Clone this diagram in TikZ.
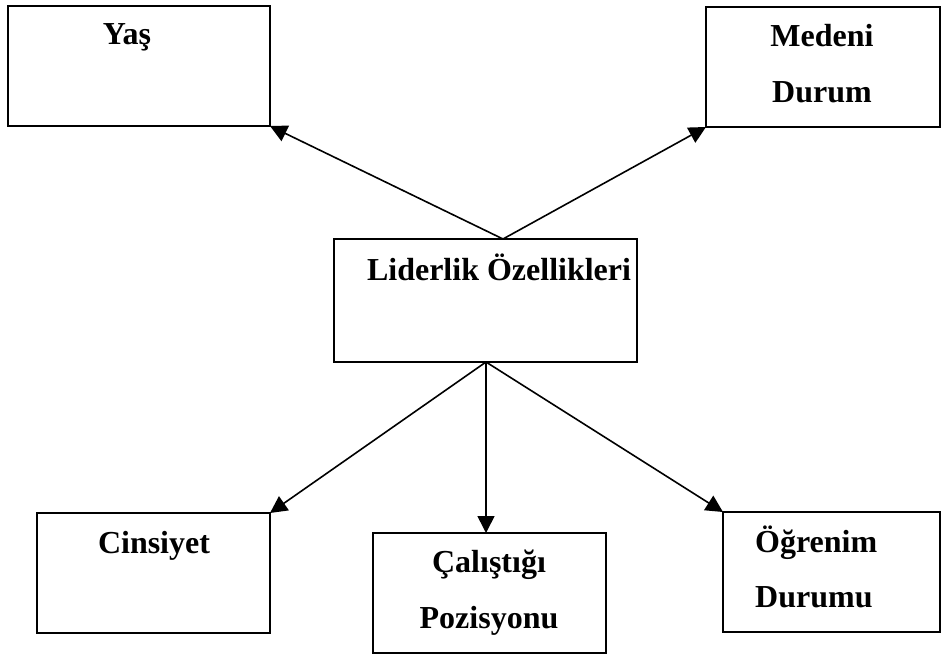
\documentclass[tikz,border=0pt]{standalone}
\usepackage{fontspec}
\setmainfont{Liberation Serif}
\usetikzlibrary{arrows.meta}
\begin{document}
\begin{tikzpicture}[x=1pt,y=-1pt,
  box/.style={draw, line width=1.1pt, inner sep=0pt, outer sep=0pt, anchor=north west},
  thickbox/.style={box, line width=2.4pt},
  lbl/.style={font=\fontsize{32}{32}\selectfont\bfseries, inner sep=0pt, anchor=base},
  conn/.style={line width=1.6pt, -{Triangle[length=17pt,width=17pt]}}]
\useasboundingbox (0,0) rectangle (944,655);
% boxes
\node[box, minimum width=262pt, minimum height=120pt] (yas) at (8,6) {};
\node[thickbox, minimum width=234pt, minimum height=120pt] (med) at (706,7) {};
\node[box, minimum width=303pt, minimum height=123pt] (lid) at (334,239) {};
\node[box, minimum width=233pt, minimum height=120pt] (cin) at (37,513) {};
\node[box, minimum width=233pt, minimum height=120pt] (cal) at (373,533) {};
\node[box, minimum width=217pt, minimum height=120pt] (ogr) at (723,512) {};
% labels
\node[lbl] (yast) at (127,45) {Yaş};
\node[lbl] (medt1) at (822,47) {Medeni};
\node[lbl] (medt2) at (822,103) {Durum};
\node[lbl] (lidt) at (499,280) {Liderlik Özellikleri};
\node[lbl] (cint) at (154,553) {Cinsiyet};
\node[lbl] (calt1) at (489,572) {Çalıştığı};
\node[lbl] (calt2) at (489,628) {Pozisyonu};
\node[lbl, anchor=base west] (ogrt1) at (755,552) {Öğrenim};
\node[lbl, anchor=base west] (ogrt2) at (755,607) {Durumu};
% connector origins
\coordinate (top) at (503,239);
\coordinate (bot) at (486,362);
\coordinate (calin) at (486,533);
% connectors
\draw[conn] (top) -- (yas.south east);
\draw[conn] (top) -- (med.south west);
\draw[conn] (bot) -- (cin.north east);
\draw[conn] (bot) -- (calin);
\draw[conn] (bot) -- (ogr.north west);
\end{tikzpicture}
\end{document}
